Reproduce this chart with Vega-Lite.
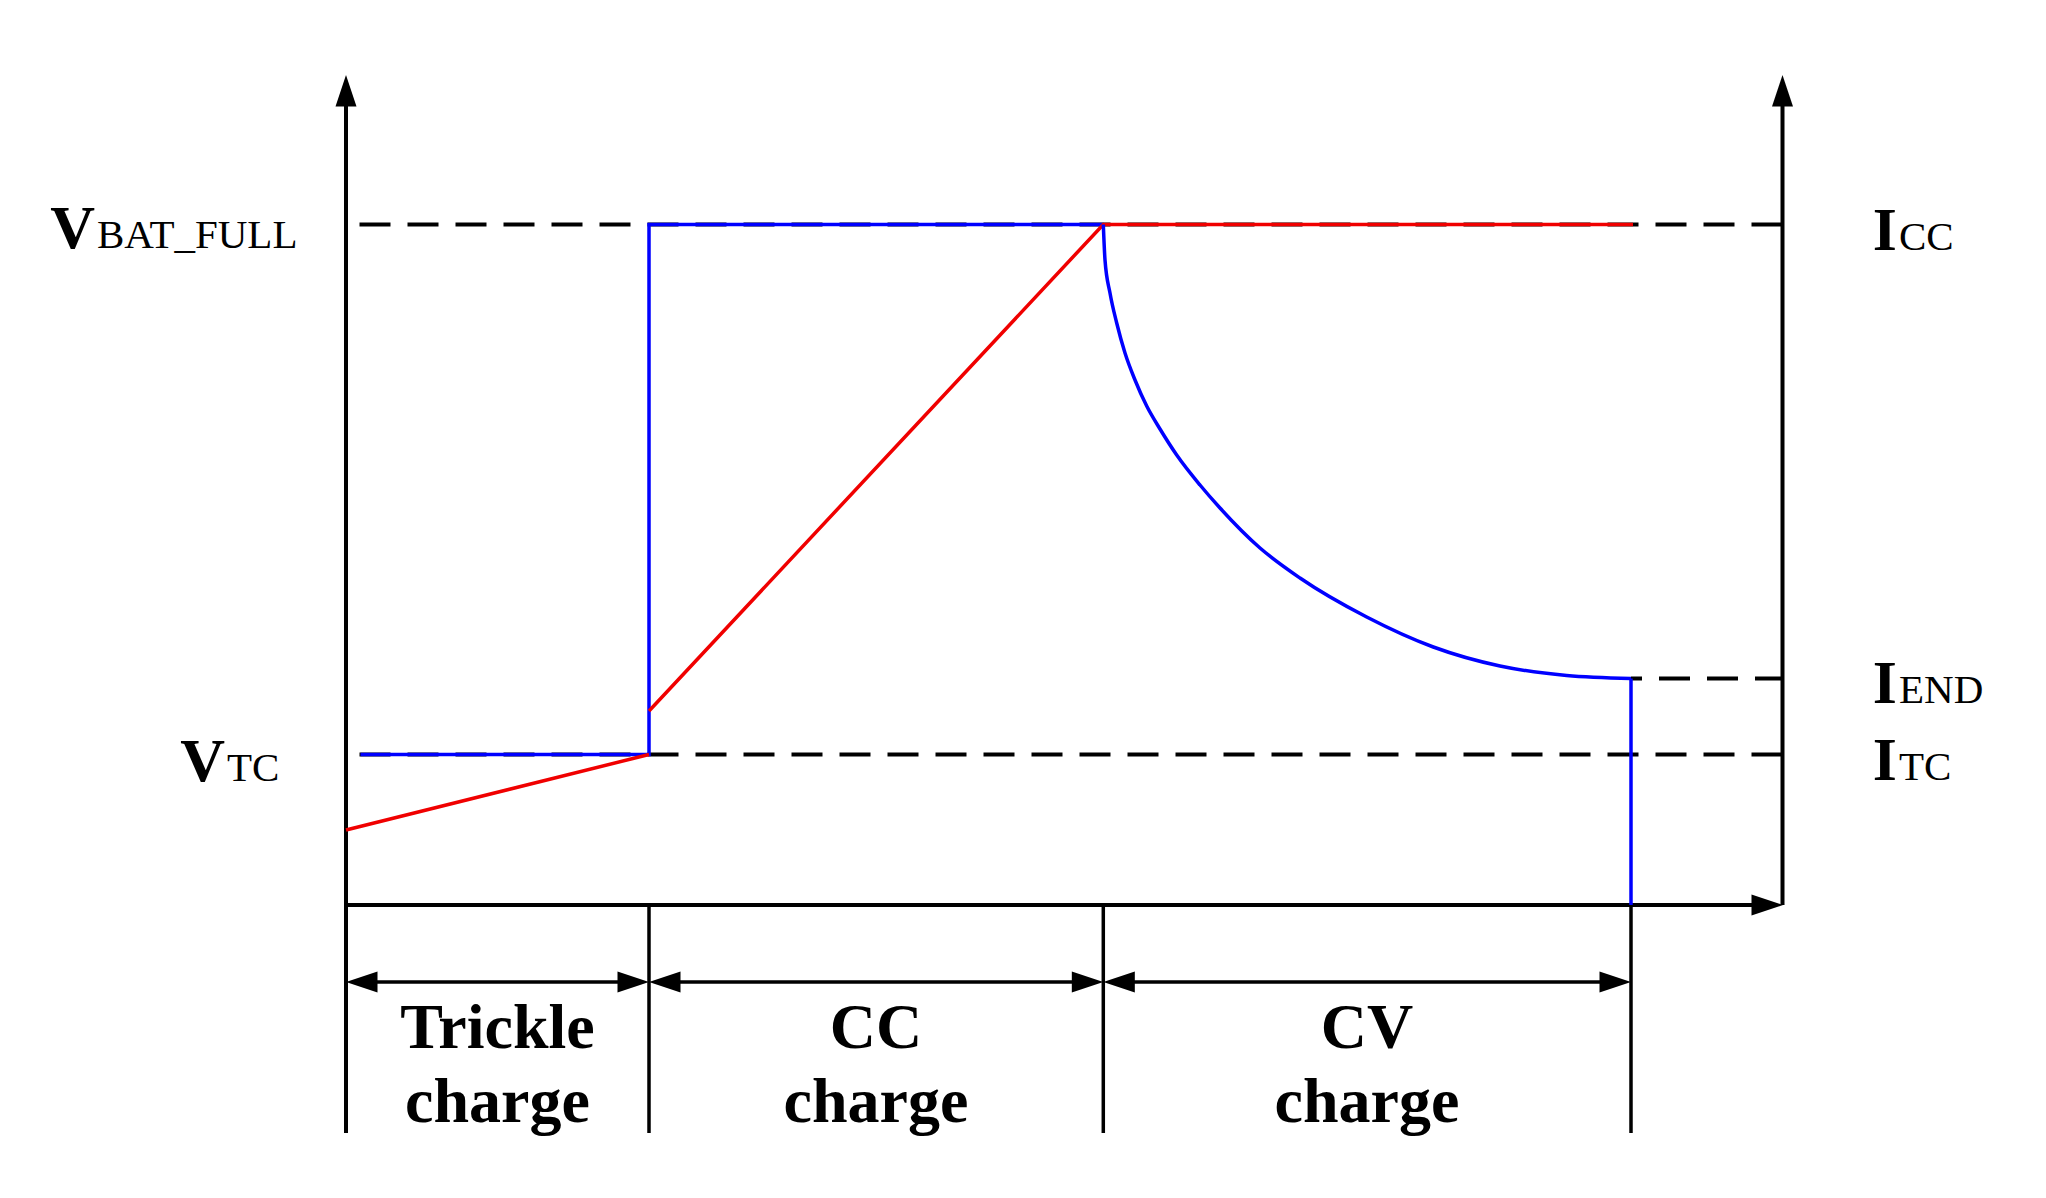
{
  "$schema": "https://vega.github.io/schema/vega-lite/v6.json",
  "width": 2046,
  "height": 1198,
  "padding": 0,
  "autosize": {"type": "fit", "contains": "padding"},
  "background": "white",
  "config": {"view": {"stroke": null}},
  "datasets": {
    "polylines": [
      {"series": "current", "seg": "b1", "o": 1, "x": 0.145, "y": 1.505},
      {"series": "current", "seg": "b1", "o": 2, "x": 3.03, "y": 1.505},
      {"series": "current", "seg": "b1", "o": 3, "x": 3.03, "y": 6.805},
      {"series": "current", "seg": "b1", "o": 4, "x": 7.58, "y": 6.805},
      {"series": "current", "seg": "b3", "o": 1, "x": 12.85, "y": 2.265},
      {"series": "current", "seg": "b3", "o": 2, "x": 12.85, "y": 0},
      {"series": "voltage", "seg": "r1", "o": 1, "x": 0, "y": 0.75},
      {"series": "voltage", "seg": "r1", "o": 2, "x": 3.03, "y": 1.505},
      {"series": "voltage", "seg": "r2", "o": 1, "x": 3.03, "y": 1.94},
      {"series": "voltage", "seg": "r2", "o": 2, "x": 7.573, "y": 6.805},
      {"series": "voltage", "seg": "r2", "o": 3, "x": 12.87, "y": 6.805}
    ],
    "cvCurrent": [
      {"series": "current", "o": 1, "x": 7.573, "y": 6.805},
      {"series": "current", "o": 2, "x": 7.59, "y": 6.45},
      {"series": "current", "o": 3, "x": 7.64, "y": 6.12},
      {"series": "current", "o": 4, "x": 7.707, "y": 5.82},
      {"series": "current", "o": 5, "x": 7.79, "y": 5.52},
      {"series": "current", "o": 6, "x": 7.89, "y": 5.25},
      {"series": "current", "o": 7, "x": 8.007, "y": 4.99},
      {"series": "current", "o": 8, "x": 8.14, "y": 4.76},
      {"series": "current", "o": 9, "x": 8.307, "y": 4.5},
      {"series": "current", "o": 10, "x": 8.54, "y": 4.2},
      {"series": "current", "o": 11, "x": 8.74, "y": 3.97},
      {"series": "current", "o": 12, "x": 9.14, "y": 3.57},
      {"series": "current", "o": 13, "x": 9.54, "y": 3.27},
      {"series": "current", "o": 14, "x": 10.207, "y": 2.88},
      {"series": "current", "o": 15, "x": 10.873, "y": 2.58},
      {"series": "current", "o": 16, "x": 11.54, "y": 2.39},
      {"series": "current", "o": 17, "x": 12.207, "y": 2.295},
      {"series": "current", "o": 18, "x": 12.85, "y": 2.265}
    ],
    "solid": [
      {"x": 0, "x2": 0, "y": -2.28, "y2": 8.0, "w": "axis"},
      {"x": 14.365, "x2": 14.365, "y": 0, "y2": 8.0, "w": "axis"},
      {"x": 0, "x2": 14.1, "y": 0, "y2": 0, "w": "axis"},
      {"x": 3.03, "x2": 3.03, "y": 0, "y2": -2.28, "w": "sep"},
      {"x": 7.573, "x2": 7.573, "y": 0, "y2": -2.28, "w": "sep"},
      {"x": 12.85, "x2": 12.85, "y": 0, "y2": -2.28, "w": "sep"},
      {"x": 0.2, "x2": 2.8, "y": -0.77, "y2": -0.77, "w": "sep"},
      {"x": 3.25, "x2": 7.35, "y": -0.77, "y2": -0.77, "w": "sep"},
      {"x": 7.8, "x2": 12.6, "y": -0.77, "y2": -0.77, "w": "sep"}
    ],
    "dashed": [
      {"x": 0.135, "x2": 14.365, "y": 6.805},
      {"x": 0.135, "x2": 14.365, "y": 1.505}
    ],
    "dashedEnd": [
      {"x": 12.85, "x2": 14.365, "y": 2.265}
    ],
    "arrows": [
      {"x": 0, "y": 8.30, "dir": "up"},
      {"x": 14.365, "y": 8.30, "dir": "up"},
      {"x": 14.37, "y": 0, "dir": "right"},
      {"x": 3.03, "y": -0.77, "dir": "right"},
      {"x": 7.573, "y": -0.77, "dir": "right"},
      {"x": 12.85, "y": -0.77, "dir": "right"},
      {"x": 0, "y": -0.77, "dir": "left"},
      {"x": 3.03, "y": -0.77, "dir": "left"},
      {"x": 7.573, "y": -0.77, "dir": "left"}
    ],
    "mainLetters": [
      {"t": "V", "x": -2.51, "y": 6.57},
      {"t": "V", "x": -1.21, "y": 1.24},
      {"t": "I", "x": 15.51, "y": 6.55},
      {"t": "I", "x": 15.51, "y": 2.02},
      {"t": "I", "x": 15.51, "y": 1.25}
    ],
    "subscripts": [
      {"t": "BAT_FULL", "x": -2.51, "y": 6.57},
      {"t": "TC", "x": -1.21, "y": 1.24},
      {"t": "CC", "x": 15.51, "y": 6.55},
      {"t": "END", "x": 15.51, "y": 2.02},
      {"t": "TC", "x": 15.51, "y": 1.25}
    ],
    "phases": [
      {"t": "Trickle", "x": 1.515, "y": -1.43},
      {"t": "charge", "x": 1.515, "y": -2.17},
      {"t": "CC", "x": 5.30, "y": -1.43},
      {"t": "charge", "x": 5.30, "y": -2.17},
      {"t": "CV", "x": 10.21, "y": -1.43},
      {"t": "charge", "x": 10.21, "y": -2.17}
    ]
  },
  "encoding": {
    "x": {"type": "quantitative", "scale": {"domain": [-3.46, 17.0], "nice": false, "zero": false}, "axis": null},
    "y": {"type": "quantitative", "scale": {"domain": [-2.93, 9.05], "nice": false, "zero": false}, "axis": null}
  },
  "layer": [
    {
      "data": {"name": "dashed"},
      "mark": {"type": "rule", "color": "black", "strokeWidth": 4, "strokeDash": [31, 17]},
      "encoding": {"x": {"field": "x"}, "x2": {"field": "x2"}, "y": {"field": "y"}}
    },
    {
      "data": {"name": "dashedEnd"},
      "mark": {"type": "rule", "color": "black", "strokeWidth": 4, "strokeDash": [31, 17], "strokeDashOffset": 20},
      "encoding": {"x": {"field": "x"}, "x2": {"field": "x2"}, "y": {"field": "y"}}
    },
    {
      "data": {"name": "solid"},
      "mark": {"type": "rule", "color": "black"},
      "encoding": {
        "x": {"field": "x"}, "x2": {"field": "x2"}, "y": {"field": "y"}, "y2": {"field": "y2"},
        "strokeWidth": {"field": "w", "type": "nominal", "scale": {"domain": ["axis", "sep"], "range": [4, 3.5]}, "legend": null}
      }
    },
    {
      "data": {"name": "polylines"},
      "mark": {"type": "line", "strokeWidth": 3.5, "strokeJoin": "miter", "strokeCap": "butt"},
      "encoding": {
        "x": {"field": "x"},
        "y": {"field": "y"},
        "detail": {"field": "seg"},
        "order": {"field": "o", "type": "quantitative"},
        "color": {"field": "series", "type": "nominal", "scale": {"domain": ["current", "voltage"], "range": ["#0000FF", "#F00000"]}, "legend": null}
      }
    },
    {
      "data": {"name": "cvCurrent"},
      "mark": {"type": "line", "strokeWidth": 3.5, "interpolate": "monotone", "strokeCap": "butt"},
      "encoding": {
        "x": {"field": "x"},
        "y": {"field": "y"},
        "order": {"field": "o", "type": "quantitative"},
        "color": {"field": "series", "type": "nominal", "scale": {"domain": ["current", "voltage"], "range": ["#0000FF", "#F00000"]}, "legend": null}
      }
    },
    {
      "data": {"name": "arrows"},
      "mark": {"type": "point", "filled": true, "color": "black", "opacity": 1, "size": 441, "strokeWidth": 0},
      "encoding": {
        "x": {"field": "x"},
        "y": {"field": "y"},
        "shape": {"field": "dir", "type": "nominal", "scale": {"domain": ["up", "right", "left"], "range": ["M0,0L-1,3L1,3Z", "M0,0L-3,-1L-3,1Z", "M0,0L3,-1L3,1Z"]}, "legend": null}
      }
    },
    {
      "data": {"name": "mainLetters"},
      "mark": {"type": "text", "font": "Liberation Serif", "fontWeight": "bold", "fontSize": 62, "align": "right", "baseline": "alphabetic", "color": "black"},
      "encoding": {"x": {"field": "x"}, "y": {"field": "y"}, "text": {"field": "t"}}
    },
    {
      "data": {"name": "subscripts"},
      "mark": {"type": "text", "font": "Liberation Serif", "fontSize": 41, "align": "left", "dx": 2, "baseline": "alphabetic", "color": "black"},
      "encoding": {"x": {"field": "x"}, "y": {"field": "y"}, "text": {"field": "t"}}
    },
    {
      "data": {"name": "phases"},
      "mark": {"type": "text", "font": "Liberation Serif", "fontWeight": "bold", "fontSize": 64, "align": "center", "baseline": "alphabetic", "color": "black"},
      "encoding": {"x": {"field": "x"}, "y": {"field": "y"}, "text": {"field": "t"}}
    }
  ]
}
